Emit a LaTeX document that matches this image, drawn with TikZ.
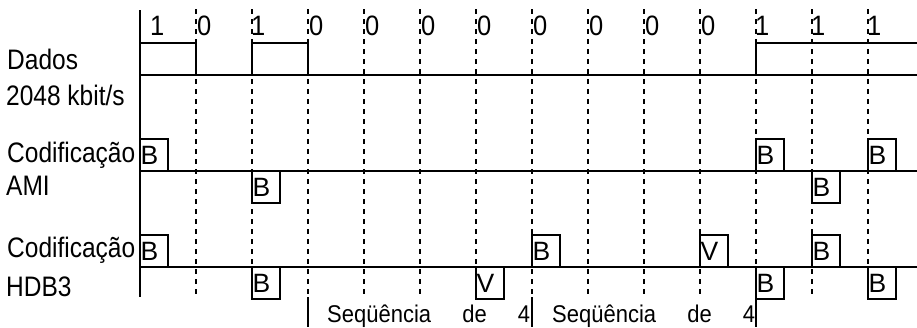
\documentclass[tikz,border=0pt]{standalone}
\usepackage{fontspec}
\setmainfont{Liberation Sans}
\newcommand{\tall}[1]{\scalebox{1}[1.1]{#1}}
\newcommand{\taller}[1]{\scalebox{1}[1.15]{#1}}
\begin{document}
\begin{tikzpicture}[x=1pt,y=-1pt,
  sig/.style={line width=2pt},
  gridline/.style={line width=2pt, dash pattern=on 5pt off 5pt},
  lbl/.style={font=\fontsize{24.5}{28}\selectfont, inner sep=0pt, anchor=base west},
  bitlbl/.style={font=\fontsize{25.5}{28}\selectfont, inner sep=0pt, anchor=base west},
  pulselbl/.style={font=\fontsize{26.5}{28}\selectfont, inner sep=0pt, anchor=base west},
  seqlbl/.style={font=\fontsize{22}{24}\selectfont, inner sep=0pt, anchor=base west}]
\useasboundingbox (0,0) rectangle (917,327);

% dashed bit boundaries
\foreach \k in {0,...,12} {
  \draw[gridline] (196+56*\k,9) -- (196+56*\k,298);
}

% axis
\draw[sig] (140,10) -- (140,297);

% left labels
\node[lbl] (dados) at (7,69) {\taller{Dados}};
\node[lbl] (rate) at (6,105) {\taller{2048 kbit/s}};
\node[lbl] (cod1) at (7,162) {\taller{Codificação}};
\node[lbl] (ami) at (6,195) {\taller{AMI}};
\node[lbl] (cod2) at (7,257) {\taller{Codificação}};
\node[lbl] (hdb) at (6,296) {\taller{HDB3}};

% bit labels
\node[bitlbl] (bit1) at (150,35.7) {\tall{1}};
\foreach \x/\b [count=\i from 2] in {197/0,251/1,309/0,365/0,421/0,477/0,533/0,589/0,645/0,701/0,755/1,811/1,867/1} {
  \node[bitlbl] (bit\i) at (\x,35.7) {\tall{\b}};
}

% data signal
\draw[sig] (140,75) -- (917,75);
\draw[sig] (140,42.5) -- (196,42.5) -- (196,75);
\draw[sig] (252,75) -- (252,42.5) -- (308,42.5) -- (308,75);
\draw[sig] (756,75) -- (756,42.5) -- (917,42.5);

% AMI
\draw[sig] (140,170.7) -- (917,170.7);
\foreach \x/\t [count=\i] in {140/B,756/B,868/B} {
  \draw[sig] (\x,170.7) |- (\x+28,139) -- (\x+28,170.7);
  \node[pulselbl] (amiup\i) at (\x+0.5,164.4) {\t};
}
\foreach \x/\t [count=\i] in {252/B,812/B} {
  \draw[sig] (\x,170.7) |- (\x+28,202.7) -- (\x+28,170.7);
  \node[pulselbl] (amidn\i) at (\x+0.5,196.2) {\t};
}

% HDB3
\draw[sig] (140,266.7) -- (917,266.7);
\foreach \x/\t [count=\i] in {140/B,532/B,700/V,812/B} {
  \draw[sig] (\x,266.7) |- (\x+28,234.7) -- (\x+28,266.7);
  \node[pulselbl] (hdbup\i) at (\x+0.5,260.3) {\t};
}
\foreach \x/\t [count=\i] in {252/B,476/V,756/B,868/B} {
  \draw[sig] (\x,266.7) |- (\x+28,298.7) -- (\x+28,266.7);
  \node[pulselbl] (hdbdn\i) at (\x+0.5,292.2) {\t};
}

% sequence markers
\draw[sig] (308,297) -- (308,327);
\draw[sig] (532,297) -- (532,327);
\draw[sig] (756,266.7) -- (756,327);
\node[seqlbl] (seq1) at (327,322) {\tall{\makebox[203pt][s]{Seqüência de 4}}};
\node[seqlbl] (seq2) at (552,322) {\tall{\makebox[203pt][s]{Seqüência de 4}}};
\end{tikzpicture}
\end{document}
